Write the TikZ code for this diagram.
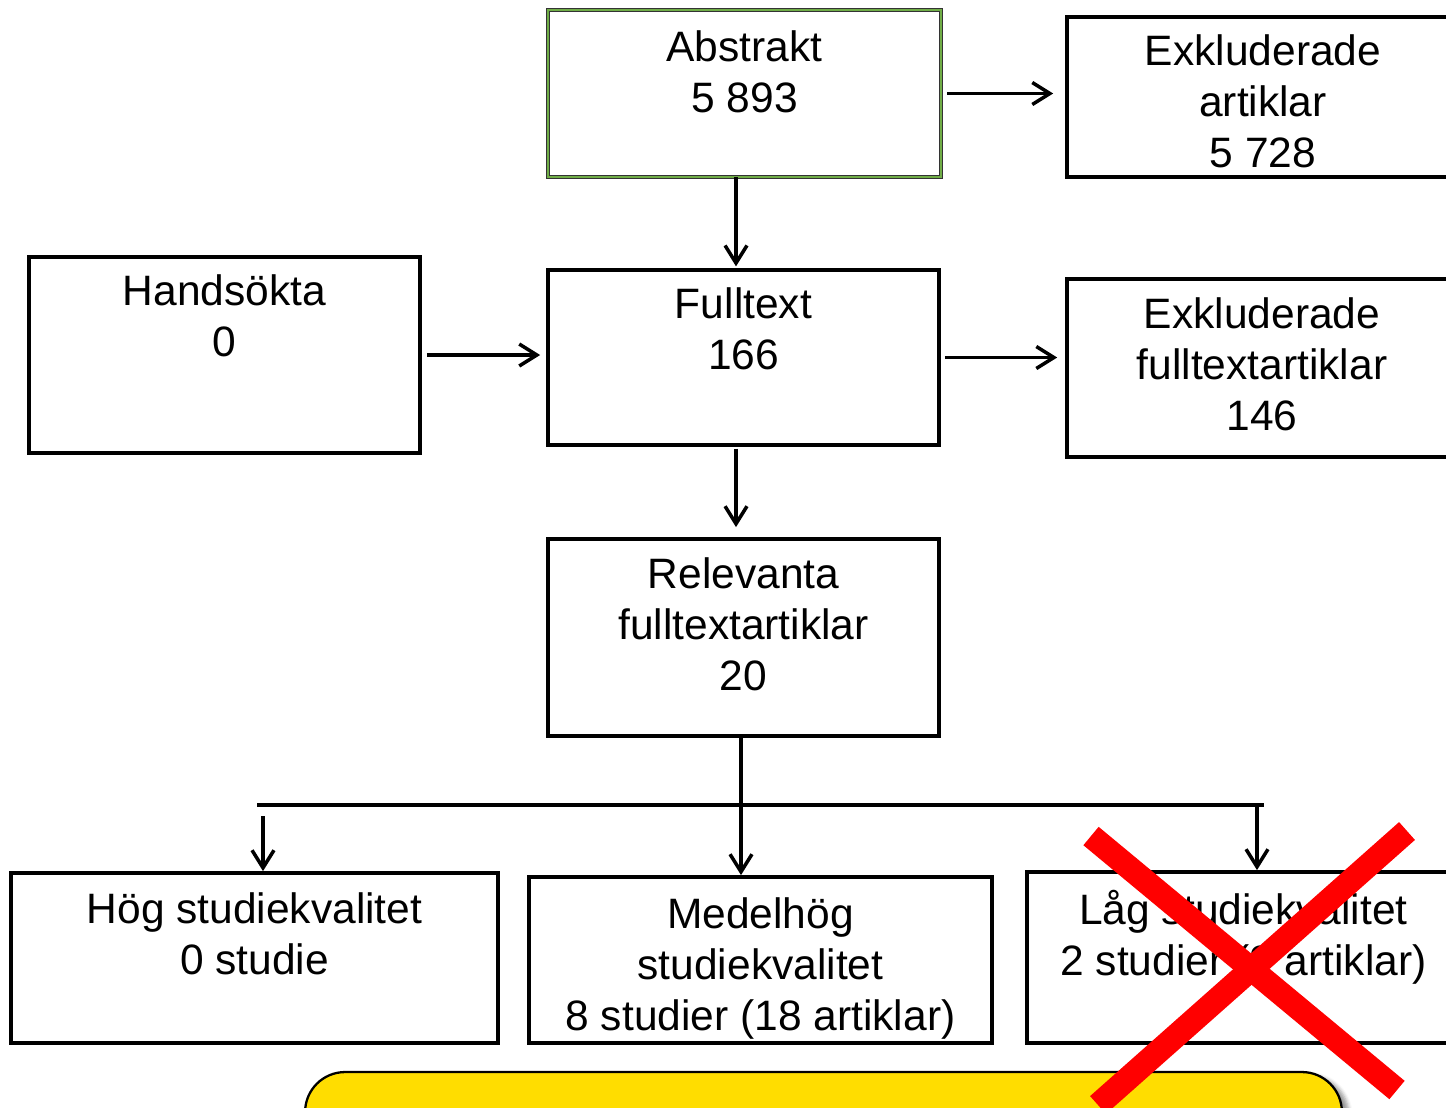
\documentclass[tikz,border=0pt]{standalone}
\usepackage{fontspec}
\setmainfont{Liberation Sans}
\usetikzlibrary{arrows.meta, positioning, calc, shadows.blur}
\definecolor{abstraktgreen}{RGB}{112, 173, 71}
\definecolor{noteyellow}   {RGB}{255, 221,  0}
\definecolor{crossred}     {RGB}{255,   0,  0}

\begin{document}
\begin{tikzpicture}[x=0.02cm, y=-0.02cm,
	box/.style={draw, line width=2.2pt, rectangle, inner sep=0pt},
	txt/.style={align=center, inner sep=0pt, anchor=north, font=\fontsize{24.2}{29}\selectfont},
	arr/.style={line width=2pt, -{Straight Barb[length=10pt, width=12.5pt]}},
	link/.style={line width=2pt},
	crossline/.style={line width=13.6pt, crossred},
	notebox/.style={draw, line width=1.3pt, fill=noteyellow, rounded corners=0.8cm,
		blur shadow={shadow xshift=4pt, shadow yshift=-2pt}}]
	\useasboundingbox (0,0) rectangle (1446,1107);
	\clip (0,0) rectangle (1446,1107);
	% boxes
	\node[box, minimum width=7.86cm, minimum height=3.34cm, draw=black!80, double=abstraktgreen,
		double distance=1.3pt, line width=0.5pt] (abs) at (744.5,93.5) {};
	\node[txt] (abstxt) at ([yshift=-0.42cm]abs.north) {Abstrakt\\5 893};
	\node[box, minimum width=7.84cm, minimum height=3.2cm] (exa) at (1263,97) {};
	\node[txt] (exatxt) at ([yshift=-0.38cm]exa.north) {Exkluderade\\artiklar\\5 728};
	\node[box, minimum width=7.82cm, minimum height=3.92cm] (hand) at (224.5,355) {};
	\node[txt] (handtxt) at ([yshift=-0.38cm]hand.north) {Handsökta\\0};
	\node[box, minimum width=7.82cm, minimum height=3.5cm] (full) at (743.5,357.5) {};
	\node[txt] (fulltxt) at ([yshift=-0.38cm]full.north) {Fulltext\\166};
	\node[box, minimum width=7.8cm, minimum height=3.56cm] (exf) at (1262,368) {};
	\node[txt] (exftxt) at ([yshift=-0.4cm]exf.north) {Exkluderade\\fulltextartiklar\\146};
	\node[box, minimum width=7.82cm, minimum height=3.94cm] (rel) at (743.5,637.5) {};
	\node[txt] (reltxt) at ([yshift=-0.4cm]rel.north) {Relevanta\\fulltextartiklar\\20};
	\node[box, minimum width=9.74cm, minimum height=3.4cm] (hog) at (254.5,958) {};
	\node[txt] (hogtxt) at ([yshift=-0.42cm]hog.north) {Hög studiekvalitet\\0 studie};
	\node[box, minimum width=9.26cm, minimum height=3.32cm] (med) at (760.5,960) {};
	\node[txt] (medtxt) at ([yshift=-0.44cm]med.north) {Medelhög\\studiekvalitet\\8 studier (18 artiklar)};
	\node[box, minimum width=8.66cm, minimum height=3.42cm] (lag) at (1243.5,957.5) {};
	\node[txt] (lagtxt) at ([yshift=-0.4cm]lag.north) {Låg studiekvalitet\\2 studier (2 artiklar)};
	% arrows
	\draw[arr, shorten <=3.4pt, shorten >=6.8pt] (abs.east) -- (abs.east -| exa.west);
	\draw[arr, shorten >=1pt] ([xshift=-0.17cm]abs.south) -- ([xshift=-0.17cm]abs.south |- full.north);
	\draw[arr, shorten <=2.8pt, shorten >=3.4pt] (hand.east) -- (hand.east -| full.west);
	\draw[arr, shorten <=2.3pt, shorten >=4.5pt] (full.east) -- (full.east -| exf.west);
	\draw[arr, shorten <=1pt, shorten >=5.7pt] ([xshift=-0.15cm]full.south) -- ([xshift=-0.15cm]full.south |- rel.north);
	% split to quality levels
	\coordinate (barL) at (257,805);
	\coordinate (barR) at (1264,805);
	\coordinate (hogin) at (263,816);
	\coordinate (lagin) at (1257,805);
	\draw[link] ([xshift=-0.05cm]rel.south) -- ([xshift=-0.05cm]rel.south |- barL);
	\draw[link] (barL) -- (barR);
	\draw[arr] (hogin) -- (hogin |- hog.north);
	\draw[arr] ([xshift=-0.05cm]rel.south |- barL) -- ([xshift=-0.05cm]rel.south |- med.north);
	\draw[arr] (lagin) -- (lagin |- lag.north);
	% note and cross
	\node[notebox, minimum width=20.74cm, minimum height=4cm] (note) at (823.5,1172) {};
	\draw[crossline] (1091,836) -- (1397,1090);
	\draw[crossline] (1407,831) -- (1098,1105);
\end{tikzpicture}
\end{document}
